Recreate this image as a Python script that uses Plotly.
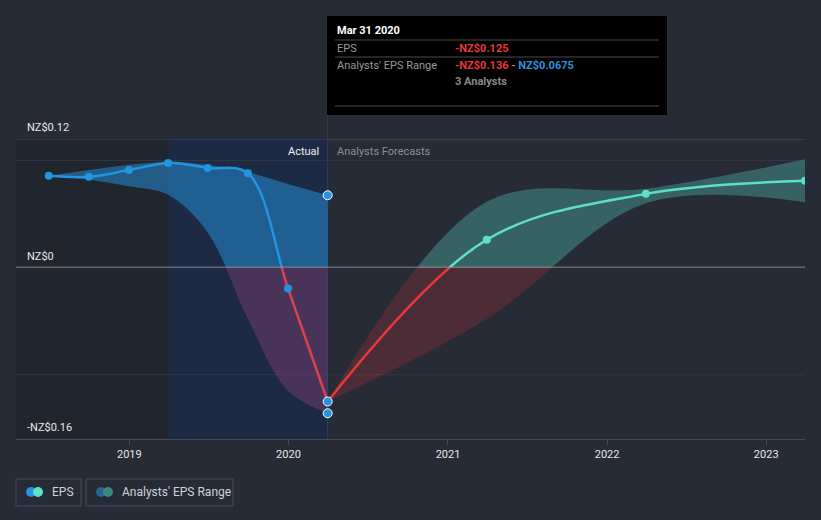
import plotly.graph_objects as go

# ---------------- data ----------------
hist_dates = ['2018-06-30', '2018-09-30', '2018-12-31', '2019-03-31',
              '2019-06-30', '2019-09-30', '2019-12-31', '2020-03-31']
hist_eps = [0.0856, 0.0847, 0.091, 0.0977, 0.093, 0.088, -0.0195, -0.125]
hist_hi = [0.0856, 0.091, 0.096, 0.0986, 0.096, 0.089, 0.078, 0.0675]
hist_lo = [0.0856, 0.082, 0.076, 0.068, 0.0326, -0.048, -0.115, -0.136]

fc_dates = ['2020-03-31', '2021-03-31', '2022-03-31', '2023-03-31']
fc_eps = [-0.125, 0.026, 0.0688, 0.081]
fc_hi = [-0.125, 0.0614, 0.0735, 0.101]
fc_lo = [-0.125, -0.048, 0.060, 0.061]

y_labels = ['NZ$0.12', 'NZ$0', '-NZ$0.16']
y_label_vals = [0.12, 0.0, -0.16]

# ---------------- styling ----------------
BG = '#262b36'
BLUE = '#2394df'
TEAL = '#5de0c8'
RED = '#e5383b'
FONT = 'Roboto'

YMIN, YMAX = -0.16, 0.12
split = (0 - YMIN) / (YMAX - YMIN)
XR = ['2018-04-16', '2023-03-31']

L, R, T, B = 16, 16, 139, 81
W, H = 821, 520
PW, PH = W - L - R, H - T - B


def px(x):
    return (x - L) / PW


def py(y):
    return (T + PH - y) / PH


fig = go.Figure()


def band(xs, hi, lo, color, yax):
    fig.add_trace(go.Scatter(x=xs, y=hi, mode='lines', line=dict(width=0, shape='spline'),
                             yaxis=yax, hoverinfo='skip', showlegend=False))
    fig.add_trace(go.Scatter(x=xs, y=lo, mode='lines', line=dict(width=0, shape='spline'),
                             fill='tonexty', fillcolor=color, yaxis=yax,
                             hoverinfo='skip', showlegend=False))


def line(xs, ys, color, yax):
    fig.add_trace(go.Scatter(x=xs, y=ys, mode='lines',
                             line=dict(width=2.5, color=color, shape='spline'),
                             yaxis=yax, hoverinfo='skip', showlegend=False))


# bands (upper part on y, lower part on y2 -> clipped at zero)
band(hist_dates, hist_hi, hist_lo, 'rgba(35,148,223,0.5)', 'y')
band(hist_dates, hist_hi, hist_lo, 'rgba(130,62,115,0.45)', 'y2')
band(fc_dates, fc_hi, fc_lo, 'rgba(93,224,200,0.3)', 'y')
band(fc_dates, fc_hi, fc_lo, 'rgba(228,57,60,0.2)', 'y2')

# lines
line(hist_dates, hist_eps, BLUE, 'y')
line(hist_dates, hist_eps, '#d9434f', 'y2')
line(fc_dates, fc_eps, TEAL, 'y')
line(fc_dates, fc_eps, RED, 'y2')

# markers
hp = [(d, v) for d, v in zip(hist_dates[:-1], hist_eps[:-1])]
for yax, cond in (('y', lambda v: v >= 0), ('y2', lambda v: v < 0)):
    pts = [(d, v) for d, v in hp if cond(v)]
    fig.add_trace(go.Scatter(x=[p[0] for p in pts], y=[p[1] for p in pts], mode='markers',
                             marker=dict(size=8, color=BLUE), yaxis=yax,
                             hoverinfo='skip', showlegend=False))
    fp = [(d, v) for d, v in zip(fc_dates[1:], fc_eps[1:]) if cond(v)]
    fig.add_trace(go.Scatter(x=[p[0] for p in fp], y=[p[1] for p in fp], mode='markers',
                             marker=dict(size=8, color=TEAL), yaxis=yax,
                             hoverinfo='skip', showlegend=False))

# highlighted markers at last actual date
last = hist_dates[-1]
fig.add_trace(go.Scatter(x=[last], y=[hist_hi[-1]], mode='markers',
                         marker=dict(size=9, color=BLUE, line=dict(color='white', width=1)),
                         yaxis='y', hoverinfo='skip', showlegend=False))
fig.add_trace(go.Scatter(x=[last, last], y=[hist_eps[-1], hist_lo[-1]], mode='markers',
                         marker=dict(size=9, color=BLUE, line=dict(color='white', width=1)),
                         yaxis='y2', hoverinfo='skip', showlegend=False))

shapes = []
# background regions
shapes.append(dict(type='rect', xref='x', yref='paper', x0=XR[0], x1=hist_dates[3], y0=0, y1=1,
                   fillcolor='#21252e', line=dict(width=0), layer='below'))
shapes.append(dict(type='rect', xref='x', yref='paper', x0=hist_dates[3], x1=last, y0=0, y1=1,
                   fillcolor='#1c2a44', line=dict(width=0), layer='below'))
# grid lines
shapes.append(dict(type='line', xref='paper', yref='y', x0=0, x1=1, y0=0.12, y1=0.12,
                   line=dict(color='#474c58', width=1), layer='below'))
shapes.append(dict(type='line', xref='paper', yref='y', x0=0, x1=1, y0=0.1, y1=0.1,
                   line=dict(color='#333845', width=1), layer='below'))
shapes.append(dict(type='line', xref='paper', yref='y2', x0=0, x1=1, y0=-0.1, y1=-0.1,
                   line=dict(color='#333845', width=1), layer='below'))
shapes.append(dict(type='line', xref='paper', yref='y', x0=0, x1=1, y0=0, y1=0,
                   line=dict(color='#a4a6ad', width=1.5), layer='above'))
# vertical line at last actual
shapes.append(dict(type='line', xref='x', yref='paper', x0=last, x1=last, y0=0, y1=py(115),
                   line=dict(color='#33405a', width=1), layer='below'))

# tooltip box
shapes.append(dict(type='rect', xref='paper', yref='paper', x0=px(327), x1=px(667),
                   y0=py(115), y1=py(16), fillcolor='#000000', line=dict(width=0)))
for sy in (40, 57, 106):
    shapes.append(dict(type='line', xref='paper', yref='paper', x0=px(335), x1=px(659),
                       y0=py(sy), y1=py(sy), line=dict(color='#4a4a4a', width=1)))

# legend boxes
for x0, x1 in ((16, 81), (86, 233)):
    shapes.append(dict(type='rect', xref='paper', yref='paper', x0=px(x0), x1=px(x1),
                       y0=py(506), y1=py(479), line=dict(color='#4a4f5a', width=1),
                       fillcolor='rgba(0,0,0,0)'))
for cx, col in ((31, BLUE), (38, TEAL), (101, '#2a6596'), (108, '#3f8582')):
    shapes.append(dict(type='circle', xref='paper', yref='paper', x0=px(cx - 5), x1=px(cx + 5),
                       y0=py(497), y1=py(487), fillcolor=col, line=dict(width=0)))

ann = []
for lab, v in zip(y_labels, y_label_vals):
    ann.append(dict(text=lab, xref='paper', yref='y2' if v < 0 else 'y', x=px(25), y=v,
                    xanchor='left', yanchor='bottom', yshift=3, showarrow=False,
                    font=dict(family=FONT, size=11, color='#e8e8e8')))
ann.append(dict(text='Actual', xref='x', yref='paper', x=last, y=py(151), xanchor='right',
                xshift=-7, yanchor='middle', showarrow=False,
                font=dict(family=FONT, size=11, color='#f0f0f0')))
ann.append(dict(text='Analysts Forecasts', xref='x', yref='paper', x=last, y=py(151),
                xanchor='left', xshift=7, yanchor='middle', showarrow=False,
                font=dict(family=FONT, size=11, color='#8a8f99')))

tip = [
    ('<b>Mar 31 2020</b>', 335, 30, '#ffffff'),
    ('EPS', 335, 48, '#9a9a9a'),
    ("Analysts' EPS Range", 335, 65, '#9a9a9a'),
    ('<b>-NZ$0.125</b>', 453, 48, RED),
    ('<b><span style="color:%s">-NZ$0.136</span> - <span style="color:%s">NZ$0.0675</span></b>'
     % (RED, '#2a93db'), 453, 65, '#9a9a9a'),
    ('<b>3 Analysts</b>', 453, 81, '#8a8a8a'),
]
for t, x, y, c in tip:
    ann.append(dict(text=t, xref='paper', yref='paper', x=px(x), y=py(y), xanchor='left',
                    yanchor='middle', showarrow=False,
                    font=dict(family=FONT, size=11, color=c)))

ann.append(dict(text='EPS', xref='paper', yref='paper', x=px(50), y=py(492), xanchor='left',
                yanchor='middle', showarrow=False, font=dict(family=FONT, size=12, color='#cfd2d8')))
ann.append(dict(text="Analysts' EPS Range", xref='paper', yref='paper', x=px(120), y=py(492),
                xanchor='left', yanchor='middle', showarrow=False,
                font=dict(family=FONT, size=12, color='#cfd2d8')))

fig.update_layout(
    width=W, height=H,
    margin=dict(l=L, r=R, t=T, b=B),
    paper_bgcolor=BG, plot_bgcolor='rgba(0,0,0,0)',
    showlegend=False,
    font=dict(family=FONT, size=11, color='#e8e8e8'),
    xaxis=dict(range=XR, type='date', anchor='y2', showgrid=False, zeroline=False,
               showline=True, linecolor='#454b57', linewidth=1,
               ticks='outside', ticklen=5, tickcolor='#454b57',
               tick0='2019-01-01', dtick='M12', tickformat='%Y',
               tickfont=dict(family=FONT, size=11, color='#e8e8e8')),
    yaxis=dict(domain=[split, 1], range=[0, YMAX], visible=False, fixedrange=True),
    yaxis2=dict(domain=[0, split], range=[YMIN, 0], visible=False, fixedrange=True),
    shapes=shapes, annotations=ann,
    hovermode=False,
)

fig.write_html('out.html')
